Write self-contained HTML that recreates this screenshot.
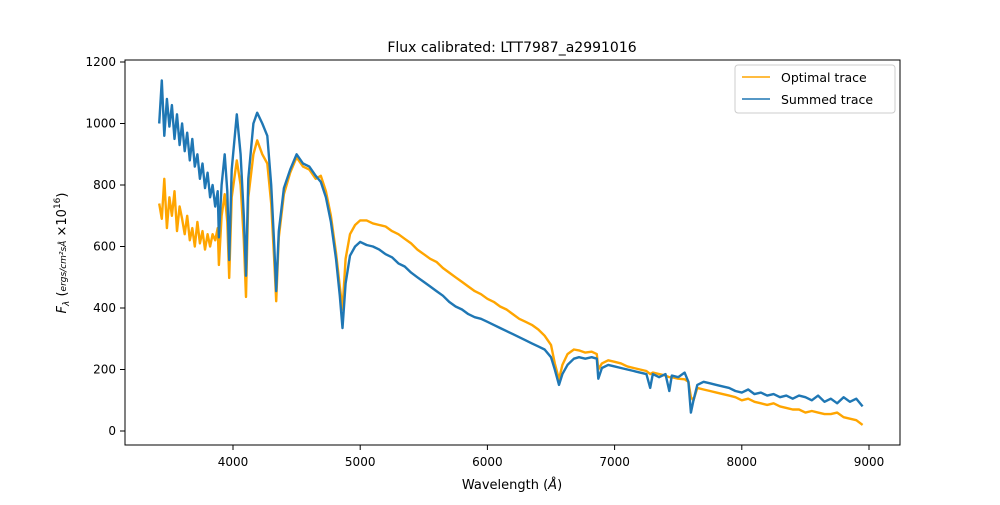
<!DOCTYPE html>
<html><head><meta charset="utf-8"><style>
body{margin:0;background:#fff;font-family:"Liberation Sans","DejaVu Sans",sans-serif;}
svg text{font-family:"DejaVu Sans","Liberation Sans",sans-serif;}
</style></head><body>
<svg id="chart" width="1000" height="500" viewBox="0 0 1000 500" xmlns="http://www.w3.org/2000/svg">
<rect width="1000" height="500" fill="#fff"/>
<text x="512" y="52" text-anchor="middle" font-size="14">Flux calibrated: LTT7987_a2991016</text>
<g id="series"></g>
<rect x="125" y="60" width="775" height="385" fill="none" stroke="#000" stroke-width="1"/>
<g id="xticks"></g><g id="yticks"></g>
<text x="512" y="489" text-anchor="middle" font-size="13">Wavelength (<tspan font-style="italic">Å</tspan>)</text>
<text transform="translate(66,253) rotate(-90)" text-anchor="middle" font-size="13"><tspan font-style="italic">F</tspan><tspan font-size="9" font-style="italic" dy="3">λ</tspan><tspan dy="-3"> (</tspan><tspan font-size="9" font-style="italic">ergs/cm²sÅ</tspan><tspan> ×10</tspan><tspan font-size="9" dy="-6">16</tspan><tspan dy="6">)</tspan></text>
<g>
<rect x="735" y="65" width="160" height="48" fill="#fff" stroke="#ccc" rx="3"/>
<line x1="742" y1="77" x2="770" y2="77" stroke="#ffa500" stroke-width="1.5"/>
<text x="781" y="82" font-size="12.5">Optimal trace</text>
<line x1="742" y1="99" x2="770" y2="99" stroke="#1f77b4" stroke-width="1.5"/>
<text x="781" y="104" font-size="12.5">Summed trace</text>
</g>
</svg>
<script>
const wavelengths=[3420,3440,3460,3480,3500,3520,3540,3560,3580,3600,3620,3640,3660,3680,3700,3720,3740,3760,3780,3800,3820,3840,3860,3880,
3889,3910,3935,3955,3970,3990,4030,4060,4085,4102,4120,4160,4190,4230,4270,4300,4325,4340,4360,4400,4450,4500,4550,4600,4650,4690,4730,4770,4810,4840,4861,4885,4920,4960,5000,5050,5100,
5150,5200,5250,5300,5350,5400,5450,5500,5550,5600,5650,5700,5750,5800,5850,5900,5950,6000,6050,6100,6150,6200,6250,6300,6350,6400,6450,6500,6530,6563,6590,6630,6680,6720,6770,6820,6860,6872,6900,6950,7000,7050,7100,7150,7200,7250,7280,7300,7350,7400,7430,7450,7500,7550,7580,7600,7620,7650,7700,7750,7800,7850,7900,7950,8000,8050,8100,8150,8200,8250,8300,8350,8400,8450,8500,8550,8600,8650,8700,8750,8800,8850,8900,8950];
const summedFlux=[1000,1140,960,1080,990,1060,950,1030,930,1000,910,970,880,950,860,900,820,870,790,840,760,800,730,780,
630,800,900,780,556,850,1030,900,700,505,820,1000,1035,1000,960,800,600,455,650,790,850,900,870,860,830,810,760,680,560,440,335,480,570,600,615,605,600,
590,575,565,545,535,515,500,485,470,455,440,420,405,395,380,370,365,355,345,335,325,315,305,295,285,275,265,240,200,150,185,215,235,240,235,240,235,170,205,215,210,205,200,195,190,185,140,185,175,185,130,180,175,190,160,60,100,150,160,155,150,145,140,130,125,135,120,125,115,120,110,115,105,115,110,100,115,95,105,90,110,95,105,80];
const optimalFlux=[740,690,820,660,760,700,780,650,730,690,640,700,620,660,600,680,610,650,590,640,600,640,620,660,
540,700,770,680,498,760,880,800,620,436,760,900,945,900,870,740,550,422,630,770,840,890,860,850,820,830,780,700,580,470,395,560,640,670,685,685,675,
670,665,650,640,625,610,590,575,560,550,530,515,500,485,470,455,445,430,420,405,395,380,365,355,345,330,310,280,220,168,215,250,265,262,255,258,250,200,220,230,225,220,210,205,200,195,185,190,185,180,175,175,170,168,160,110,100,140,135,130,125,120,115,110,100,105,95,90,85,90,80,75,70,70,60,65,60,55,55,60,45,40,35,20];
const xTicks=[4000,5000,6000,7000,8000,9000];
const yTicks=[0,200,400,600,800,1000,1200];
const X=w=>233+(w-4000)*0.1272;
const Y=v=>431-v*0.3075;
const NS="http://www.w3.org/2000/svg";
const sg=document.getElementById('series');
function line(vals,color,name){
  const p=document.createElementNS(NS,'polyline');
  p.setAttribute('points',wavelengths.map((w,i)=>X(w).toFixed(1)+','+Y(vals[i]).toFixed(1)).join(' '));
  p.setAttribute('fill','none');p.setAttribute('stroke',color);p.setAttribute('stroke-width','2.4');p.setAttribute('stroke-linejoin','round');
  
  
  sg.appendChild(p);
}
line(optimalFlux,'#ffa500','optimal-trace-line');
line(summedFlux,'#1f77b4','summed-trace-line');
const xg=document.getElementById('xticks');
xTicks.forEach(t=>{
  const l=document.createElementNS(NS,'line');
  l.setAttribute('x1',X(t));l.setAttribute('x2',X(t));l.setAttribute('y1',445);l.setAttribute('y2',450);l.setAttribute('stroke','#000');
  
  
  xg.appendChild(l);
  const tx=document.createElementNS(NS,'text');
  tx.setAttribute('x',X(t));tx.setAttribute('y',466);tx.setAttribute('text-anchor','middle');tx.setAttribute('font-size','12');
  tx.textContent=t;
  
  
  xg.appendChild(tx);
});
const yg=document.getElementById('yticks');
yTicks.forEach(t=>{
  const l=document.createElementNS(NS,'line');
  l.setAttribute('x1',120);l.setAttribute('x2',125);l.setAttribute('y1',Y(t));l.setAttribute('y2',Y(t));l.setAttribute('stroke','#000');
  
  
  yg.appendChild(l);
  const tx=document.createElementNS(NS,'text');
  tx.setAttribute('x',116);tx.setAttribute('y',Y(t)+4);tx.setAttribute('text-anchor','end');tx.setAttribute('font-size','12');
  tx.textContent=t;
  
  
  yg.appendChild(tx);
});
</script>
</body></html>
